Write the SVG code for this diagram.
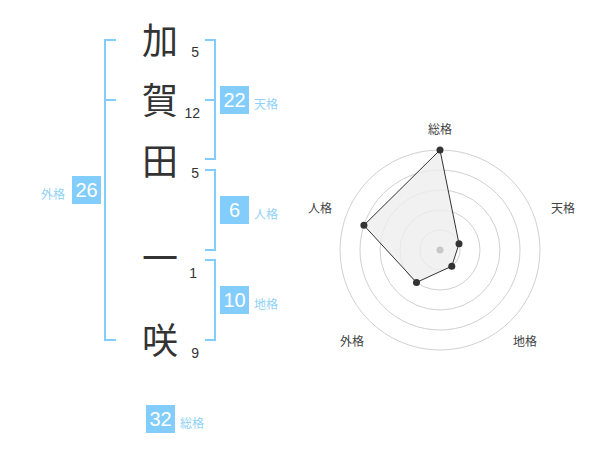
<svg xmlns="http://www.w3.org/2000/svg" width="600" height="470" viewBox="0 0 600 470">
<style>
.ch{font-family:"Noto Sans CJK JP","Noto Sans CJK SC",sans-serif;font-size:36px;fill:#333;text-anchor:middle}
.st{font-family:"Liberation Sans","Noto Sans CJK JP",sans-serif;font-size:14px;fill:#333;text-anchor:end}
.br{fill:none;stroke:#82cdfb;stroke-width:2}
.bx{fill:#82cdfb}
.bn{font-family:"Liberation Sans","Noto Sans CJK JP",sans-serif;font-size:20px;fill:#fff;text-anchor:middle}
.lb{font-family:"Noto Sans CJK JP",sans-serif;font-size:12px;fill:#8fd2f7}
.rl{font-family:"Noto Sans CJK JP",sans-serif;font-size:12px;fill:#444;text-anchor:middle}
.ring{fill:none;stroke:#d0d0d0;stroke-width:1}
.pt{fill:#333}
</style>
<rect width="600" height="470" fill="#fff"/>
<g id="names">
<g id="c1"><text class="ch" x="160" y="54">加</text><text class="st" x="199" y="57">5</text></g>
<g id="c2"><text class="ch" x="160" y="114">賀</text><text class="st" x="200" y="118">12</text></g>
<g id="c3"><text class="ch" x="160" y="175">田</text><text class="st" x="199" y="178">5</text></g>
<g id="c4"><text class="ch" x="160" y="272">一</text><text class="st" x="197" y="278">1</text></g>
<g id="c5"><text class="ch" x="160" y="354">咲</text><text class="st" x="199" y="358">9</text></g>
</g>
<g id="connectors">
<path class="br" d="M116,40 H105 V340 H116 M105,100 H116"/>
<path class="br" d="M205,40 H215 V159 H205 M215,100 H205"/>
<path class="br" d="M205,170 H215 V250 H205"/>
<path class="br" d="M205,260 H215 V340 H205"/>
</g>
<g id="tenkaku"><rect class="bx" x="220" y="86" width="29" height="28"/><text class="bn" x="234.5" y="107">22</text><text class="lb" x="254" y="109">天格</text></g>
<g id="jinkaku"><rect class="bx" x="220" y="196" width="29" height="28"/><text class="bn" x="234.5" y="217">6</text><text class="lb" x="254" y="219">人格</text></g>
<g id="chikaku"><rect class="bx" x="220" y="286" width="29" height="28"/><text class="bn" x="234.5" y="307">10</text><text class="lb" x="254" y="309">地格</text></g>
<g id="gaikaku"><rect class="bx" x="72" y="176" width="29" height="28"/><text class="bn" x="86.5" y="197">26</text><text class="lb" x="41" y="199">外格</text></g>
<g id="soukaku"><rect class="bx" x="146" y="405" width="29" height="28"/><text class="bn" x="160.5" y="426">32</text><text class="lb" x="180" y="428">総格</text></g>
<g id="radar">
<circle class="ring" cx="440" cy="250" r="20"/>
<circle class="ring" cx="440" cy="250" r="40"/>
<circle class="ring" cx="440" cy="250" r="60"/>
<circle class="ring" cx="440" cy="250" r="80"/>
<circle class="ring" cx="440" cy="250" r="100"/>
<polygon points="440,150 459,243.8 451.8,266.2 416.5,282.4 363.9,225.3" fill="#eeeeee" fill-opacity="0.8" stroke="#333" stroke-width="1"/>
<circle cx="440" cy="250" r="3.5" fill="#c8c8c8"/>
<circle class="pt" cx="440" cy="150" r="3.5"/>
<circle class="pt" cx="459" cy="243.8" r="3.5"/>
<circle class="pt" cx="451.8" cy="266.2" r="3.5"/>
<circle class="pt" cx="416.5" cy="282.4" r="3.5"/>
<circle class="pt" cx="363.9" cy="225.3" r="3.5"/>
<text class="rl" x="440" y="134">総格</text>
<text class="rl" x="563" y="213">天格</text>
<text class="rl" x="525" y="346">地格</text>
<text class="rl" x="352" y="346">外格</text>
<text class="rl" x="320" y="213">人格</text>
</g>
</svg>
